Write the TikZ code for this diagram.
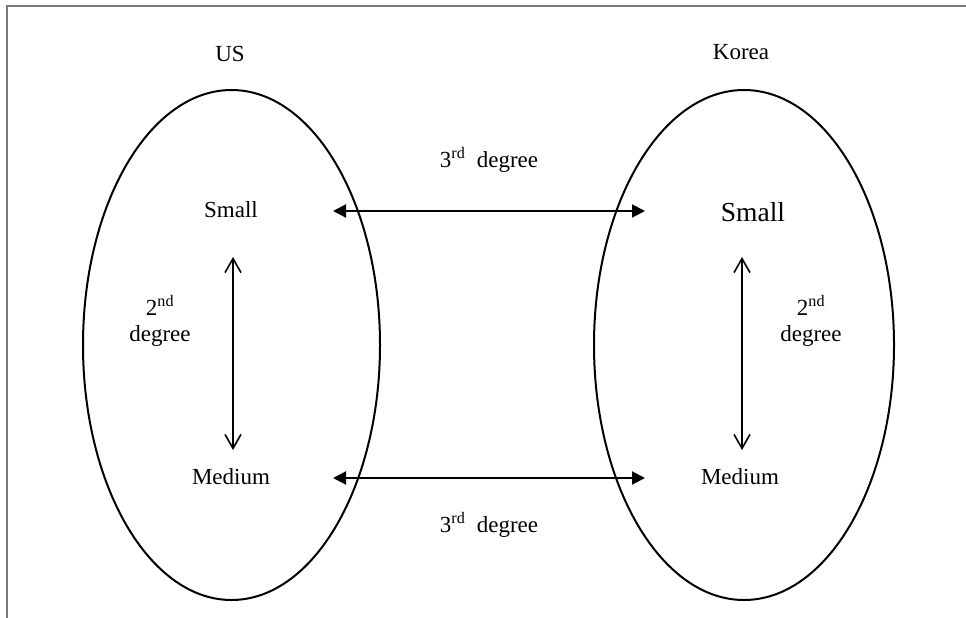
\documentclass[tikz,border=0pt]{standalone}
\usepackage{fontspec}
\setmainfont{Liberation Serif}
\usetikzlibrary{arrows.meta,shapes.geometric}
\tikzset{
  lbl/.style={inner sep=0pt, font=\fontsize{23}{26}\selectfont},
  biglbl/.style={inner sep=0pt, font=\fontsize{27.5}{30}\selectfont},
  region/.style={draw=black, line width=2pt, ellipse, inner sep=0pt},
  hlink/.style={line width=2pt, {Triangle[length=13pt,width=13pt]}-{Triangle[length=13pt,width=13pt]}},
  vlink/.style={line width=1.6pt, {Straight Barb[length=14pt,width=16pt,line width=1.6pt]}-{Straight Barb[length=14pt,width=16pt,line width=1.6pt]}},
  frameline/.style={draw=gray!95!black, line width=1.6pt}
}
\begin{document}
\begin{tikzpicture}[x=1pt,y=-1pt]
\useasboundingbox (0,0) rectangle (966,618);
% frame
\coordinate (fbl) at (7,618);
\coordinate (ftl) at (7,6);
\coordinate (ftr) at (966,6);
\draw[frameline] (fbl) -- (ftl) -- (ftr);
% regions
\node[region, minimum width=297pt, minimum height=510pt] (usr) at (231.5,345) {};
\node[region, minimum width=300pt, minimum height=510pt] (kor) at (744,345) {};
% titles
\node[lbl] (us) at (230,54) {US};
\node[lbl] (korea) at (741,52) {Korea};
% items
\node[lbl] (uss) at (231,210) {Small};
\node[lbl] (usm) at (231,477) {Medium};
\node[biglbl] (ks) at (753,212) {Small};
\node[lbl] (km) at (740,477) {Medium};
% degree labels
\node[lbl, align=center] (usd) at (160,321) {2\textsuperscript{nd}\\degree};
\node[lbl, align=center] (kd) at (811,321) {2\textsuperscript{nd}\\degree};
\node[lbl] (td) at (489,160) {3\textsuperscript{rd}\hspace{0.5em}degree};
\node[lbl] (bd) at (489,525) {3\textsuperscript{rd}\hspace{0.5em}degree};
% arrow ends
\coordinate (a1) at (333,211);
\coordinate (a2) at (645,211);
\coordinate (b1) at (333,478);
\coordinate (b2) at (645,478);
\coordinate (c1) at (233,257);
\coordinate (c2) at (233,450);
\coordinate (d1) at (742,257);
\coordinate (d2) at (742,450);
\draw[hlink] (a1) -- (a2);
\draw[hlink] (b1) -- (b2);
\draw[vlink] (c1) -- (c2);
\draw[vlink] (d1) -- (d2);
\end{tikzpicture}
\end{document}
